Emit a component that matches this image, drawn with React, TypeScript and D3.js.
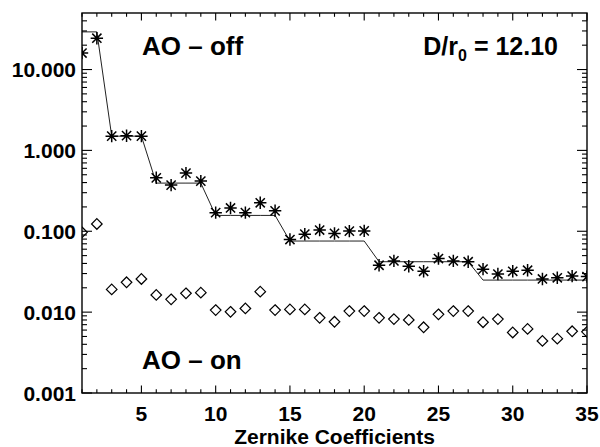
import React, { useEffect, useRef } from 'react';
import * as d3 from 'd3';

// Zernike coefficient index 1..35
const coeffs = d3.range(1, 36);

// measured variance, AO loop open (asterisks)
const aoOff = [
  16.0, 24.4, 1.50, 1.52, 1.50, 0.458, 0.372, 0.524, 0.417, 0.170,
  0.194, 0.170, 0.225, 0.179, 0.079, 0.092, 0.1035, 0.094, 0.1005, 0.101,
  0.038, 0.043, 0.037, 0.032, 0.046, 0.043, 0.042, 0.034, 0.0296, 0.032,
  0.033, 0.0257, 0.0266, 0.0279, 0.0275
];

// theoretical Kolmogorov variance per radial order (solid line)
const theory = [
  29.2, 29.2, 1.50, 1.50, 1.50, 0.394, 0.394, 0.394, 0.394, 0.157,
  0.157, 0.157, 0.157, 0.157, 0.0757, 0.0757, 0.0757, 0.0757, 0.0757, 0.0757,
  0.042, 0.042, 0.042, 0.042, 0.042, 0.042, 0.042, 0.0249, 0.0249, 0.0249,
  0.0249, 0.0249, 0.0249, 0.0249, 0.0249
];

// measured variance, AO loop closed (diamonds)
const aoOn = [
  0.097, 0.123, 0.0191, 0.0234, 0.0257, 0.0163, 0.0144, 0.0171, 0.0174, 0.0106,
  0.0101, 0.0111, 0.0179, 0.0106, 0.0108, 0.0108, 0.0085, 0.0076, 0.0103, 0.0103,
  0.0085, 0.0082, 0.0080, 0.0065, 0.0094, 0.0103, 0.0103, 0.0075, 0.0082, 0.0056,
  0.0062, 0.0044, 0.0047, 0.0058, 0.0057
];

const xTicks = [5, 10, 15, 20, 25, 30, 35];
const yTicks = [0.001, 0.01, 0.1, 1, 10];

function App() {
  const ref = useRef<SVGSVGElement>(null);

  useEffect(() => {
    const W = 600, H = 447;
    const margin = { top: 13, right: 13, bottom: 54, left: 82 };
    const x0 = margin.left, x1 = W - margin.right;
    const y0 = H - margin.bottom, y1 = margin.top;

    const svg = d3.select(ref.current);
    svg.selectAll('*').remove();

    const x = d3.scaleLinear().domain([1, 35]).range([x0, x1]);
    const y = d3.scaleLog().domain([0.001, 50]).range([y0, y1]);

    const font = '"Liberation Sans", Arial, Helvetica, sans-serif';

    svg.append('defs').append('clipPath').attr('id', 'plotclip')
      .append('rect')
      .attr('x', x0).attr('y', y1)
      .attr('width', x1 - x0).attr('height', y0 - y1);

    const plot = svg.append('g').attr('clip-path', 'url(#plotclip)');

    // theory step line
    const line = d3.line<number>()
      .x((d, i) => x(coeffs[i]))
      .y(d => y(d));
    plot.append('path')
      .attr('d', line(theory))
      .attr('fill', 'none')
      .attr('stroke', '#222')
      .attr('stroke-width', 1);

    // asterisks
    const r = 6.2, rd = 4.6;
    const star = `M${-r},0L${r},0M0,${-r}L0,${r}M${-rd},${-rd}L${rd},${rd}M${-rd},${rd}L${rd},${-rd}`;
    plot.selectAll('path.off')
      .data(aoOff).join('path')
      .attr('class', 'off')
      .attr('transform', (d, i) => `translate(${x(coeffs[i])},${y(d)})`)
      .attr('d', star)
      .attr('fill', 'none')
      .attr('stroke', '#000')
      .attr('stroke-width', 1.5);

    // diamonds
    const s = 5.3;
    const diamond = `M0,${-s}L${s},0L0,${s}L${-s},0Z`;
    plot.selectAll('path.on')
      .data(aoOn).join('path')
      .attr('class', 'on')
      .attr('transform', (d, i) => `translate(${x(coeffs[i])},${y(d)})`)
      .attr('d', diamond)
      .attr('fill', 'none')
      .attr('stroke', '#000')
      .attr('stroke-width', 1.2);

    // frame
    svg.append('rect')
      .attr('x', x0).attr('y', y1)
      .attr('width', x1 - x0).attr('height', y0 - y1)
      .attr('fill', 'none')
      .attr('stroke', '#000')
      .attr('stroke-width', 1.4);

    // x ticks (inward, top and bottom)
    const ax = svg.append('g').attr('stroke', '#000').attr('stroke-width', 1.1);
    coeffs.forEach(c => {
      const len = c % 5 === 0 ? 7.5 : 3.8;
      ax.append('line').attr('x1', x(c)).attr('x2', x(c)).attr('y1', y0).attr('y2', y0 - len);
      ax.append('line').attr('x1', x(c)).attr('x2', x(c)).attr('y1', y1).attr('y2', y1 + len);
    });

    // y ticks (inward, left and right), minor at 2..9 of each decade
    const minors: number[] = [];
    [0.001, 0.01, 0.1, 1, 10].forEach(dec => {
      for (let k = 2; k <= 9; k++) {
        const v = dec * k;
        if (v < 50) minors.push(v);
      }
    });
    yTicks.forEach(v => {
      ax.append('line').attr('x1', x0).attr('x2', x0 + 10).attr('y1', y(v)).attr('y2', y(v));
      ax.append('line').attr('x1', x1).attr('x2', x1 - 10).attr('y1', y(v)).attr('y2', y(v));
    });
    minors.forEach(v => {
      ax.append('line').attr('x1', x0).attr('x2', x0 + 5).attr('y1', y(v)).attr('y2', y(v));
      ax.append('line').attr('x1', x1).attr('x2', x1 - 5).attr('y1', y(v)).attr('y2', y(v));
    });

    // tick labels
    svg.selectAll('text.xl')
      .data(xTicks).join('text')
      .attr('class', 'xl')
      .attr('x', d => x(d))
      .attr('y', 421)
      .attr('text-anchor', 'middle')
      .style('font-family', font)
      .style('font-weight', 'bold')
      .style('font-size', '21px')
      .text(d => d);

    svg.selectAll('text.yl')
      .data(yTicks).join('text')
      .attr('class', 'yl')
      .attr('x', x0 - 6)
      .attr('y', d => y(d) + 7.5)
      .attr('text-anchor', 'end')
      .style('font-family', font)
      .style('font-weight', 'bold')
      .style('font-size', '21px')
      .text(d => d3.format('.3f')(d));

    svg.append('text')
      .attr('x', (x0 + x1) / 2)
      .attr('y', 444)
      .attr('text-anchor', 'middle')
      .style('font-family', font)
      .style('font-weight', 'bold')
      .style('font-size', '21px')
      .text('Zernike Coefficients');

    // annotations
    const ann = (tx: number, ty: number, label: string) =>
      svg.append('text')
        .attr('x', tx).attr('y', ty)
        .style('font-family', font)
        .style('font-weight', 'bold')
        .style('font-size', '26px')
        .text(label);
    ann(142, 55, 'AO \u2013 off');
    ann(142, 369, 'AO \u2013 on');

    const dr = svg.append('text')
      .attr('x', 558).attr('y', 55)
      .attr('text-anchor', 'end')
      .style('font-family', font)
      .style('font-weight', 'bold')
      .style('font-size', '25px');
    dr.append('tspan').text('D/r');
    dr.append('tspan').attr('dy', 6).style('font-size', '16px').text('0');
    dr.append('tspan').attr('dy', -6).text(' = 12.10');
  }, []);

  return (
    <svg ref={ref} width={600} height={447}
      style={{ position: 'absolute', left: 0, top: 0, background: '#fff' }} />
  );
}

export default App;
